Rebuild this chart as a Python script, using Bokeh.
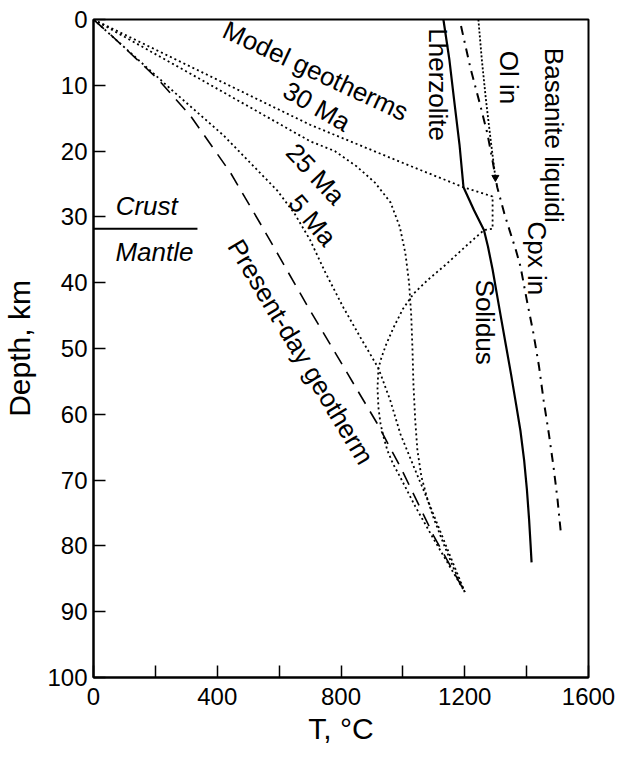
from bokeh.plotting import figure
from bokeh.models import Range1d, FixedTicker, Label
from bokeh.embed import file_html
from bokeh.resources import INLINE
import math

FONT = "Liberation Sans"

# ---- data (T in degC, depth in km) ----
present_T = [0, 55, 207, 313, 443, 549, 691, 917, 992, 1100, 1200]
present_D = [0, 2.3, 9.0, 14.6, 23.3, 31.8, 43.5, 61.4, 68.0, 78.5, 87.0]

ma5_T = [0, 260, 420, 594, 650, 700, 750, 808, 865, 921, 960, 992, 1040, 1080, 1144, 1200]
ma5_D = [0, 11.0, 17.6, 26.0, 29.5, 33.5, 38.5, 43.8, 48.5, 53.0, 58.0, 63.0, 68.5, 73.0, 80.5, 87.0]

ma25_T = [0, 350, 700, 780, 850, 910, 960, 990, 1008, 1020, 1027, 1031, 1034, 1040,
          1047, 1060, 1080, 1099, 1130, 1165, 1200]
ma25_D = [0, 9.2, 18.5, 20.0, 22.3, 24.8, 27.8, 31.5, 35.5, 40.0, 45.0, 50.0, 55.3, 61.0,
          65.5, 69.5, 73.0, 75.7, 79.5, 83.5, 87.0]

ma30_T = [0, 350, 700, 1000, 1196, 1290, 1290, 1262, 1200, 1140, 1080, 1034, 1000, 970,
          945, 930, 921, 918, 921, 928, 938, 950, 968, 992, 1040, 1100, 1150, 1200]
ma30_D = [0, 8.0, 16.0, 21.8, 25.5, 26.9, 31.8, 32.0, 34.6, 37.2, 39.6, 41.7, 44.0, 46.8,
          49.5, 51.5, 53.0, 56.0, 59.0, 61.5, 63.5, 65.5, 67.5, 69.6, 74.0, 79.0, 83.0, 87.0]

solidus_T = [1131, 1150, 1165, 1183, 1196, 1230, 1262, 1275, 1290, 1303, 1316, 1333, 1350,
             1366, 1380, 1392, 1401, 1408, 1413, 1416]
solidus_D = [0, 6, 12, 19, 25.5, 29, 32, 34.5, 38, 41.5, 45, 49.5, 54,
             58.5, 62.5, 67, 71.5, 76, 80, 82.5]

olin_T = [1244, 1255, 1268, 1283, 1299]
olin_D = [0, 6, 12, 18, 24]

cpxin_T = [1188, 1218, 1250, 1273, 1290, 1305, 1328, 1348, 1365, 1380, 1400, 1422, 1440,
           1455, 1472, 1487, 1500, 1510]
cpxin_D = [1.0, 7.3, 13.0, 17.3, 21.5, 25.5, 29.5, 32.5, 35.0, 37.5, 42.5, 47.7, 52.7,
           57.9, 63.0, 68.0, 73.0, 77.7]

moho_T = [0, 336]
moho_D = [31.8, 31.8]

x_ticks = [0, 200, 400, 600, 800, 1000, 1200, 1400, 1600]
x_labelled = [0, 400, 800, 1200, 1600]
y_ticks = [0, 10, 20, 30, 40, 50, 60, 70, 80, 90, 100]

p = figure(width=617, height=757, output_backend="svg", toolbar_location=None,
           x_range=Range1d(0, 1600), y_range=Range1d(100, 0),
           min_border_left=93, min_border_right=29, min_border_top=19,
           min_border_bottom=80)
p.background_fill_color = "white"
p.border_fill_color = "white"
p.xgrid.visible = False
p.ygrid.visible = False
p.outline_line_color = "black"
p.outline_line_width = 2

p.xaxis.ticker = FixedTicker(ticks=x_ticks)
p.xaxis.major_label_overrides = {t: ("" if t not in x_labelled else str(t)) for t in x_ticks}
p.yaxis.ticker = FixedTicker(ticks=y_ticks)
for ax in (p.xaxis[0], p.yaxis[0]):
    ax.major_tick_in = 12
    ax.major_tick_out = 0
    ax.minor_tick_line_color = None
    ax.axis_line_width = 2
    ax.axis_line_color = "black"
    ax.major_tick_line_width = 1.5
    ax.major_tick_line_color = "black"
    ax.major_label_text_font = FONT
    ax.major_label_text_font_size = "24px"
    ax.major_label_text_color = "black"
    ax.axis_label_text_font = FONT
    ax.axis_label_text_font_size = "30px"
    ax.axis_label_text_font_style = "normal"
    ax.axis_label_text_color = "black"
p.xaxis.major_label_standoff = 10
p.yaxis.major_label_standoff = 6
p.xaxis.axis_label = "T, °C"
p.yaxis.axis_label = "Depth, km"
p.xaxis.axis_label_standoff = 4
p.yaxis.axis_label_standoff = 8

# ---- curves ----
p.line(present_T, present_D, line_color="black", line_width=1.6, line_dash="14 9")
p.line(ma5_T, ma5_D, line_color="black", line_width=1.8, line_dash="2 3")
p.line(ma25_T, ma25_D, line_color="black", line_width=1.8, line_dash="2 3")
p.line(ma30_T, ma30_D, line_color="black", line_width=1.8, line_dash="2 3")
p.line(solidus_T, solidus_D, line_color="black", line_width=2.2)
p.line(olin_T, olin_D, line_color="black", line_width=1.8, line_dash="2 2")
p.scatter([olin_T[-1]], [olin_D[-1]], marker="inverted_triangle", size=7, color="black")
p.line(cpxin_T, cpxin_D, line_color="black", line_width=2, line_dash="9 6 2 6")
p.line(moho_T, moho_D, line_color="black", line_width=2)

# ---- annotations ----
def lab(x, y, text, angle_deg=0, size="26px", style="normal"):
    p.add_layout(Label(x=x, y=y, text=text, angle=math.radians(angle_deg),
                       text_align="center", text_baseline="middle",
                       text_font=FONT, text_font_size=size,
                       text_font_style=style, text_color="black"))

lab(172, 28.4, "Crust", style="italic")
lab(197, 35.4, "Mantle", style="italic")
lab(718, 7.8, "Model geotherms", -25)
lab(722, 13.2, "30 Ma", -30)
lab(718, 23.5, "25 Ma", -47)
lab(708, 30.5, "5 Ma", -50)
lab(670, 50.5, "Present-day geotherm", -59)
lab(1115, 9.9, "Lherzolite", -90)
lab(1342, 8.8, "Ol in", -90)
lab(1487, 17.6, "Basanite liquidi", -90)
lab(1435, 36.3, "Cpx in", -90)
lab(1267, 46.0, "Solidus", -90)

open("out.html", "w").write(file_html(p, INLINE))
